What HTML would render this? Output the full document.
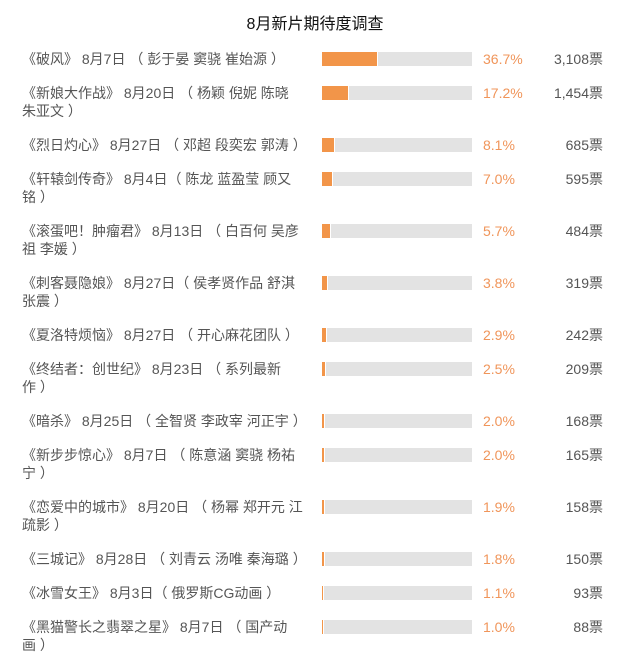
<!DOCTYPE html>
<html><head><meta charset="utf-8"><style>
body{margin:0;width:640px;height:658px;background:#fff;font-family:"Liberation Sans","Noto Sans CJK SC",sans-serif;position:relative;overflow:hidden}
.t{position:absolute;top:10px;left:0;width:630px;text-align:center;font-size:16px;color:#111}
.r{position:absolute;left:0;width:640px}
.l{position:absolute;left:22px;width:290px;font-size:14px;line-height:18px;color:#555;top:-9px}
.b{position:absolute;left:322px;width:150px;height:14px;top:-7px;background:#e3e3e3}
.f{height:14px;background:#f29549;border-right:1px solid #fff}
.p{position:absolute;left:483px;top:-9px;font-size:14px;line-height:18px;color:#f0955a}
.v{position:absolute;right:37px;top:-9px;font-size:14px;line-height:18px;color:#555}
</style></head><body>
<div class="t">8月新片期待度调查</div>
<div class="r" style="top:59px"><div class="l">《破风》 8月7日 （ 彭于晏 窦骁 崔始源 ）</div><div class="b"><div class="f" style="width:55px"></div></div><div class="p">36.7%</div><div class="v">3,108票</div></div>
<div class="r" style="top:93px"><div class="l">《新娘大作战》 8月20日 （ 杨颖 倪妮 陈晓<br>朱亚文 ）</div><div class="b"><div class="f" style="width:26px"></div></div><div class="p">17.2%</div><div class="v">1,454票</div></div>
<div class="r" style="top:145px"><div class="l">《烈日灼心》 8月27日 （ 邓超 段奕宏 郭涛 ）</div><div class="b"><div class="f" style="width:12px"></div></div><div class="p">8.1%</div><div class="v">685票</div></div>
<div class="r" style="top:179px"><div class="l">《轩辕剑传奇》 8月4日（ 陈龙 蓝盈莹 顾又<br>铭 ）</div><div class="b"><div class="f" style="width:10px"></div></div><div class="p">7.0%</div><div class="v">595票</div></div>
<div class="r" style="top:231px"><div class="l">《滚蛋吧！肿瘤君》 8月13日 （ 白百何 吴彦<br>祖 李媛 ）</div><div class="b"><div class="f" style="width:8px"></div></div><div class="p">5.7%</div><div class="v">484票</div></div>
<div class="r" style="top:283px"><div class="l">《刺客聂隐娘》 8月27日（ 侯孝贤作品 舒淇<br>张震 ）</div><div class="b"><div class="f" style="width:5px"></div></div><div class="p">3.8%</div><div class="v">319票</div></div>
<div class="r" style="top:335px"><div class="l">《夏洛特烦恼》 8月27日 （ 开心麻花团队 ）</div><div class="b"><div class="f" style="width:4px"></div></div><div class="p">2.9%</div><div class="v">242票</div></div>
<div class="r" style="top:369px"><div class="l">《终结者：创世纪》 8月23日 （ 系列最新<br>作 ）</div><div class="b"><div class="f" style="width:3px"></div></div><div class="p">2.5%</div><div class="v">209票</div></div>
<div class="r" style="top:421px"><div class="l">《暗杀》 8月25日 （ 全智贤 李政宰 河正宇 ）</div><div class="b"><div class="f" style="width:2px"></div></div><div class="p">2.0%</div><div class="v">168票</div></div>
<div class="r" style="top:455px"><div class="l">《新步步惊心》 8月7日 （ 陈意涵 窦骁 杨祐<br>宁 ）</div><div class="b"><div class="f" style="width:2px"></div></div><div class="p">2.0%</div><div class="v">165票</div></div>
<div class="r" style="top:507px"><div class="l">《恋爱中的城市》 8月20日 （ 杨幂 郑开元 江<br>疏影 ）</div><div class="b"><div class="f" style="width:2px"></div></div><div class="p">1.9%</div><div class="v">158票</div></div>
<div class="r" style="top:559px"><div class="l">《三城记》 8月28日 （ 刘青云 汤唯 秦海璐 ）</div><div class="b"><div class="f" style="width:2px"></div></div><div class="p">1.8%</div><div class="v">150票</div></div>
<div class="r" style="top:593px"><div class="l">《冰雪女王》 8月3日（ 俄罗斯CG动画 ）</div><div class="b"><div class="f" style="width:1px"></div></div><div class="p">1.1%</div><div class="v">93票</div></div>
<div class="r" style="top:627px"><div class="l">《黑猫警长之翡翠之星》 8月7日 （ 国产动<br>画 ）</div><div class="b"><div class="f" style="width:1px"></div></div><div class="p">1.0%</div><div class="v">88票</div></div>
</body></html>
